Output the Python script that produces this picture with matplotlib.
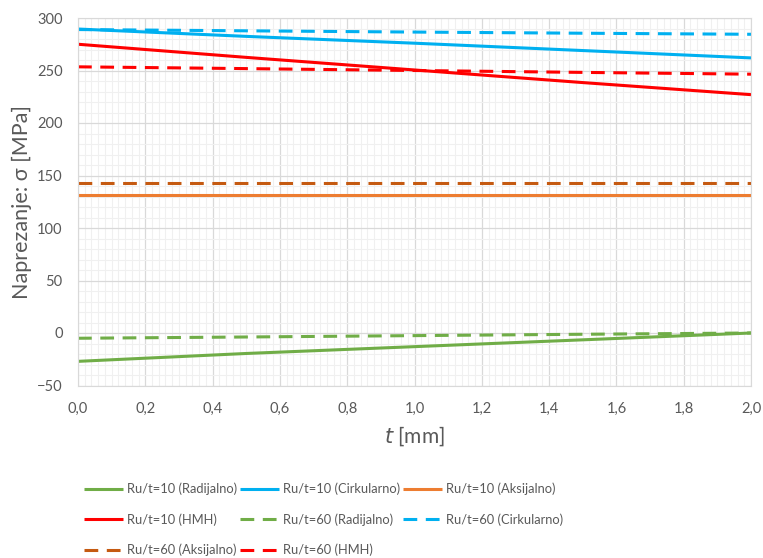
import matplotlib
matplotlib.use("Agg")
import matplotlib.pyplot as plt
from matplotlib.ticker import MultipleLocator

plt.rcParams['font.family'] = ['Lato', 'DejaVu Sans']

t = [0.0, 0.5, 1.0, 1.5, 2.0]
r10_rad = [-27.0, -19.5, -13.0, -6.5, 0.0]
r10_cir = [289.5, 282.5, 276.0, 269.0, 262.0]
r10_aks = [131.0, 131.0, 131.0, 131.0, 131.0]
r10_hmh = [275.0, 262.5, 250.5, 238.5, 227.0]
r60_rad = [-5.0, -3.8, -2.5, -1.2, 0.0]
r60_cir = [289.0, 287.8, 286.6, 285.5, 284.5]
r60_aks = [142.5, 142.5, 142.5, 142.5, 142.5]
r60_hmh = [253.5, 251.8, 250.0, 248.2, 246.5]

labels = ["Ru/t=10 (Radijalno)", "Ru/t=10 (Cirkularno)", "Ru/t=10 (Aksijalno)",
          "Ru/t=10 (HMH)", "Ru/t=60 (Radijalno)", "Ru/t=60 (Cirkularno)",
          "Ru/t=60 (Aksijalno)", "Ru/t=60 (HMH)"]
xticks = [0.0, 0.2, 0.4, 0.6, 0.8, 1.0, 1.2, 1.4, 1.6, 1.8, 2.0]
xticklabels = ["0,0", "0,2", "0,4", "0,6", "0,8", "1,0", "1,2", "1,4", "1,6", "1,8", "2,0"]
yticks = [-50, 0, 50, 100, 150, 200, 250, 300]

fig = plt.figure(figsize=(7.63, 5.58), dpi=100)
ax = fig.add_axes([78/763, 1-385.5/558, (751-78)/763, (385.5-18)/558])

series = [
    (r10_rad, '#70AD47', '-'), (r10_cir, '#00B0F0', '-'), (r10_aks, '#ED7D31', '-'),
    (r10_hmh, '#FF0000', '-'), (r60_rad, '#70AD47', '--'), (r60_cir, '#00B0F0', '--'),
    (r60_aks, '#C55A11', '--'), (r60_hmh, '#FF0000', '--'),
]
lines = []
for (vals, col, ls), lab in zip(series, labels):
    ln, = ax.plot(t, vals, color=col, lw=2.2, label=lab, solid_capstyle='butt')
    if ls == '--':
        ln.set_dashes((4.5, 2.8))
    lines.append(ln)

ax.set_xlim(0, 2.0)
ax.set_ylim(-50, 300)
ax.set_xticks(xticks)
ax.set_xticklabels(xticklabels)
ax.set_yticks(yticks)
ax.xaxis.set_minor_locator(MultipleLocator(0.02))
ax.yaxis.set_minor_locator(MultipleLocator(10))
ax.grid(which='major', color='#D9D9D9', lw=0.9)
ax.grid(which='minor', color='#F0F0F0', lw=0.8)
ax.set_axisbelow(True)
for s in ax.spines.values():
    s.set_color('#D9D9D9')
ax.tick_params(which='both', length=0, colors='#595959', labelsize=10.5)
ax.tick_params(axis='x', pad=12)
ax.tick_params(axis='y', pad=11)

ax.set_ylabel("Naprezanje: σ [MPa]", fontsize=15.5, color='#595959', labelpad=4)
ax.set_xlabel("$t$ [mm]", fontsize=15, color='#595959', labelpad=6)

order = [0, 3, 6, 1, 4, 7, 2, 5]
leg = fig.legend([lines[i] for i in order], [labels[i] for i in order], ncol=3,
                 loc='upper left', bbox_to_anchor=(72/763, 1-471/558), frameon=False,
                 fontsize=9.3, handlelength=3.05, handletextpad=0.3, columnspacing=0.2,
                 labelspacing=1.4, labelcolor='#595959')

fig.savefig("out.png", dpi=100)
